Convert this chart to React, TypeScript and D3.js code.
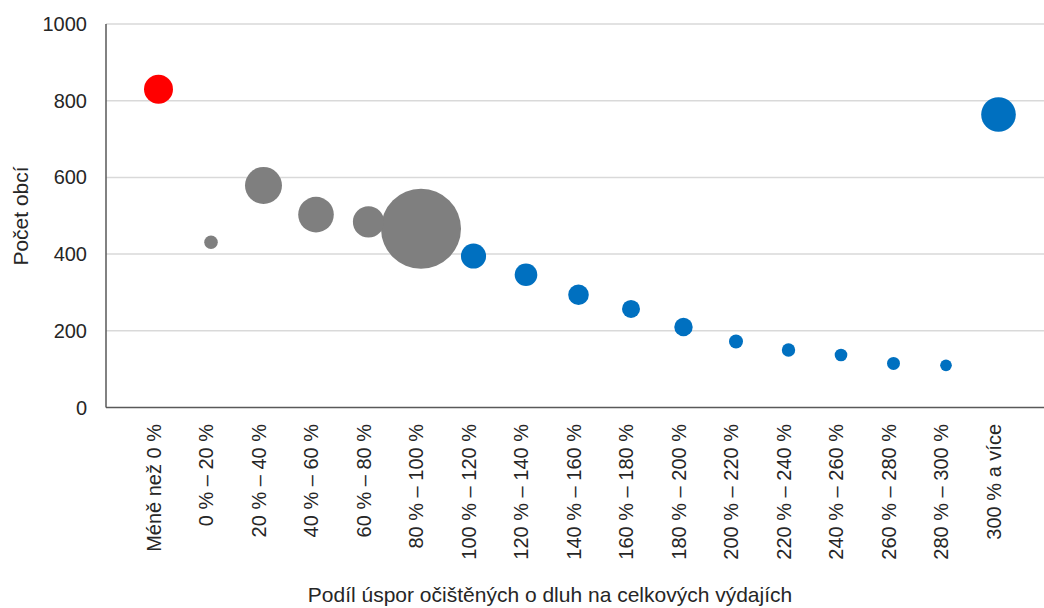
import * as d3 from 'd3';
import { useRef, useEffect } from "react"

// categories on the x axis
const categories = [
    "Méně než 0 %", "0 % – 20 %", "20 % – 40 %", "40 % – 60 %", "60 % – 80 %",
    "80 % – 100 %", "100 % – 120 %", "120 % – 140 %", "140 % – 160 %", "160 % – 180 %",
    "180 % – 200 %", "200 % – 220 %", "220 % – 240 %", "240 % – 260 %", "260 % – 280 %",
    "280 % – 300 %", "300 % a více"
]
// Počet obcí (y)
const counts = [830, 431, 579, 503, 484, 466, 395, 346, 294, 257, 210, 172, 150, 137, 115, 110, 764]
// bubble sizes (area)
const sizes = [210, 46, 342, 317, 243, 1600, 158, 128, 106, 81, 85, 49, 45, 40, 42, 34, 300]
// colour group of each bubble
const groups = ["neg", "low", "low", "low", "low", "low", "high", "high", "high", "high", "high", "high", "high", "high", "high", "high", "high"]
const yTicks = [0, 200, 400, 600, 800, 1000]

const colors: Record<string, string> = { neg: "#ff0000", low: "#7f7f7f", high: "#0070c0" }

function BubbleChart() {
    const ref = useRef<SVGSVGElement | null>(null)

    useEffect(() => {
        renderChart();
    }, [])

    function renderChart() {
        const width = 1044
        const height = 608
        const left = 106, top = 24, bottom = 407.5
        const font = "'Liberation Sans', Arial, sans-serif"
        const ink = "#262626"

        const svg = d3.select(ref.current!)
        svg.selectAll("*").remove()

        const x = d3.scaleLinear().domain([0, 18]).range([left, left + 18 * 52.5])
        const y = d3.scaleLinear().domain([0, 1000]).range([bottom, top])
        const r = d3.scaleSqrt().domain([0, 1600]).range([0, 40])

        // gridlines
        svg.append("g")
            .selectAll("line")
            .data(yTicks.filter(d => d > 0))
            .enter()
            .append("line")
            .attr("x1", left)
            .attr("x2", width)
            .attr("y1", d => y(d))
            .attr("y2", d => y(d))
            .attr("stroke", "#d9d9d9")
            .attr("stroke-width", 1.5)

        // y tick labels
        svg.append("g")
            .selectAll("text")
            .data(yTicks)
            .enter()
            .append("text")
            .attr("x", 87)
            .attr("y", d => y(d))
            .attr("dy", "0.35em")
            .attr("text-anchor", "end")
            .style("font-family", font)
            .style("font-size", "20px")
            .style("fill", ink)
            .text(d => d)

        // bubbles, biggest first so small ones stay visible
        const idx = d3.range(categories.length).sort((a, b) => sizes[b] - sizes[a])
        svg.append("g")
            .selectAll("circle")
            .data(idx)
            .enter()
            .append("circle")
            .attr("cx", i => x(i + 1))
            .attr("cy", i => y(counts[i]))
            .attr("r", i => r(sizes[i]))
            .style("fill", i => colors[groups[i]])

        // axis lines
        svg.append("line")
            .attr("x1", left).attr("x2", left)
            .attr("y1", top).attr("y2", bottom)
            .attr("stroke", "#595959").attr("stroke-width", 1.5)
        svg.append("line")
            .attr("x1", left).attr("x2", width)
            .attr("y1", bottom).attr("y2", bottom)
            .attr("stroke", "#595959").attr("stroke-width", 1.5)

        // x category labels, rotated
        svg.append("g")
            .selectAll("text")
            .data(categories)
            .enter()
            .append("text")
            .attr("transform", (_d, i) => "translate(" + (x(i + 1) + 2) + ",424) rotate(-90)")
            .attr("text-anchor", "end")
            .style("font-family", font)
            .style("font-size", "20px")
            .style("fill", ink)
            .text(d => d)

        // axis titles
        svg.append("text")
            .attr("transform", "translate(28,216) rotate(-90)")
            .attr("text-anchor", "middle")
            .style("font-family", font)
            .style("font-size", "21px")
            .style("fill", ink)
            .text("Počet obcí")

        svg.append("text")
            .attr("x", 550)
            .attr("y", 602)
            .attr("text-anchor", "middle")
            .style("font-family", font)
            .style("font-size", "21px")
            .style("fill", ink)
            .text("Podíl úspor očištěných o dluh na celkových výdajích")

        svg.attr("width", width).attr("height", height)
    }

    return (
        <svg
            ref={ref}
            width={1044}
            height={608}
            style={{ position: 'absolute', left: 0, top: 0, background: '#fff' }}
        />
    )
}

export default function App() {
    return <BubbleChart />
}
